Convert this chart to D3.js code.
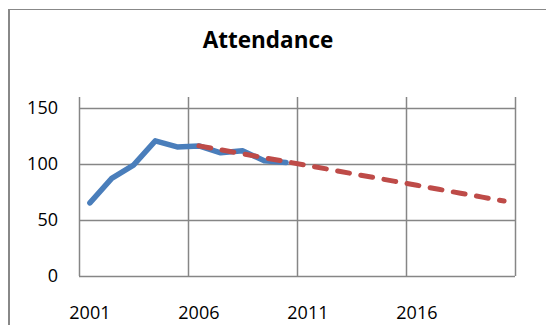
<!DOCTYPE html>
<html><head><meta charset="utf-8">
<script src="https://cdn.jsdelivr.net/npm/d3@7"></script>
<style>html,body{margin:0;padding:0;background:#fff;overflow:hidden}</style>
</head><body>
<svg id="chart" width="546" height="325"></svg>
<script>
const years = d3.range(2001, 2021);
const actualYears = [2001,2002,2003,2004,2005,2006,2007,2008,2009,2010];
const attendance = [65.4,87.2,99.1,120.8,115.4,116.3,110.1,111.9,103,101.5];
const trendYears = [2006,2007,2008,2009,2010,2011,2012,2013,2014,2015,2016,2017,2018,2019,2020];
const trend = [116.3,112.8,109.3,105.7,102.2,98.7,95.2,91.6,88.1,84.6,81.1,77.5,74,70.5,67];
const xTickLabels = [2001,2006,2011,2016];
const yTicks = [0,50,100,150];
const title = "Attendance";

const svg = d3.select("#chart");
const font = "'Open Sans', sans-serif";
const pLeft = 79, pRight = 515, pTop = 97, pBottom = 276;

// frame
svg.append("line").attr("x1",9).attr("x2",546).attr("y1",9.5).attr("y2",9.5).attr("stroke","#888").attr("stroke-width",1);
svg.append("line").attr("x1",9).attr("x2",9).attr("y1",9).attr("y2",325).attr("stroke","#888").attr("stroke-width",2);

const x = d3.scaleBand().domain(years).range([pLeft, pRight]);
const y = d3.scaleLinear().domain([0,160]).range([pBottom, pTop]);
const xc = d => x(d) + x.bandwidth()/2;

// horizontal gridlines
svg.append("g").selectAll("line").data(yTicks).join("line")
  .attr("x1", pLeft).attr("x2", pRight)
  .attr("y1", d => Math.round(y(d))+0.5).attr("y2", d => Math.round(y(d))+0.5)
  .attr("stroke","#868686").attr("stroke-width",1.5);
// vertical gridlines at category boundaries
const vlines = xTickLabels.map(d => x(d)).concat([pRight]);
svg.append("g").selectAll("line").data(vlines).join("line")
  .attr("x1", d => Math.round(d)+0.5).attr("x2", d => Math.round(d)+0.5)
  .attr("y1", pTop).attr("y2", pBottom)
  .attr("stroke","#868686").attr("stroke-width",1.5);

// y labels
svg.append("g").selectAll("text").data(yTicks).join("text")
  .attr("x", 58).attr("y", d => y(d)).attr("dy","0.35em")
  .attr("text-anchor","end").attr("font-family",font).attr("font-size",18).attr("fill","#000")
  .text(d => d);
// x labels
svg.append("g").selectAll("text").data(xTickLabels).join("text")
  .attr("x", d => xc(d)).attr("y", 319)
  .attr("text-anchor","middle").attr("font-family",font).attr("font-size",18).attr("fill","#000")
  .text(d => d);

// title
svg.append("text").attr("x",268).attr("y",48).attr("text-anchor","middle")
  .attr("font-family",font).attr("font-weight","bold").attr("font-size",22.5).attr("fill","#000")
  .text(title);

const line = d3.line().x(d => xc(d[0])).y(d => y(d[1]));
svg.append("path").datum(actualYears.map((d,i)=>[d,attendance[i]]))
  .attr("d", line).attr("fill","none").attr("stroke","#4a7ebb").attr("stroke-width",5.5)
  .attr("stroke-linejoin","round").attr("stroke-linecap","round");
svg.append("path").datum(trendYears.map((d,i)=>[d,trend[i]]))
  .attr("d", line).attr("fill","none").attr("stroke","#be4b48").attr("stroke-width",5)
  .attr("stroke-dasharray","12,11.5").attr("stroke-linecap","round");
</script>
</body></html>
